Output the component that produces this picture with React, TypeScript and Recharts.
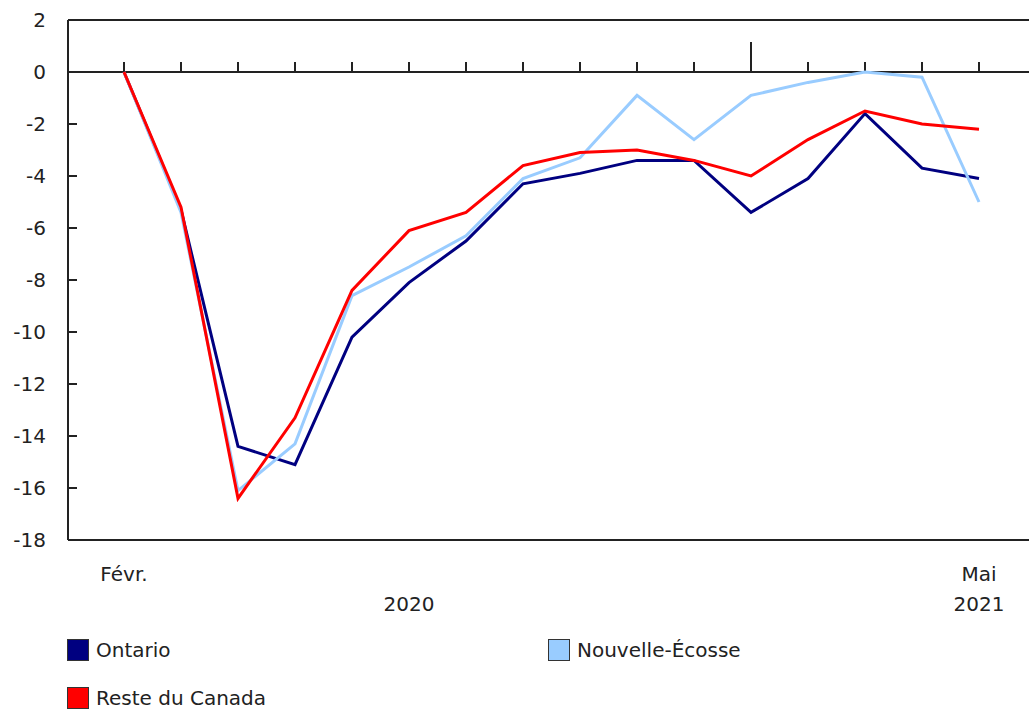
import React from 'react';
import { LineChart, Line, XAxis, YAxis, ReferenceLine } from 'recharts';

const months = ['2020-02','2020-03','2020-04','2020-05','2020-06','2020-07','2020-08','2020-09','2020-10','2020-11','2020-12','2021-01','2021-02','2021-03','2021-04','2021-05'];
const monthLabels = ['Févr.','','','','','','','','','','','','','','','Mai'];
const yearLabels = ['','','','','','2020','','','','','','','','','','2021'];
const ontario = [0,-5.3,-14.4,-15.1,-10.2,-8.1,-6.5,-4.3,-3.9,-3.4,-3.4,-5.4,-4.1,-1.6,-3.7,-4.1];
const nouvelleEcosse = [0,-5.4,-16.1,-14.3,-8.6,-7.5,-6.3,-4.1,-3.3,-0.9,-2.6,-0.9,-0.4,0,-0.2,-5.0];
const resteCanada = [0,-5.2,-16.4,-13.3,-8.4,-6.1,-5.4,-3.6,-3.1,-3.0,-3.4,-4.0,-2.6,-1.5,-2.0,-2.2];
const yTicks = [-18,-16,-14,-12,-10,-8,-6,-4,-2,0,2];
const yearStartIndex = 11;

const series = [
  { key: 'ontario', name: 'Ontario', color: '#000080' },
  { key: 'ne', name: 'Nouvelle-Écosse', color: '#99CCFF' },
  { key: 'reste', name: 'Reste du Canada', color: '#FF0000' },
];

const data = months.map((m, i) => ({
  m,
  ontario: ontario[i],
  ne: nouvelleEcosse[i],
  reste: resteCanada[i],
}));

const FONT = '"DejaVu Sans", Verdana, sans-serif';
const FS = 20;

const XTick = (props: any) => {
  const { x, y, index } = props;
  return (
    <g>
      {monthLabels[index] ? (
        <text x={x} y={y} dy={33} textAnchor="middle" fontFamily={FONT} fontSize={FS} fill="#222">{monthLabels[index]}</text>
      ) : null}
      {yearLabels[index] ? (
        <text x={x} y={y} dy={63} textAnchor="middle" fontFamily={FONT} fontSize={FS} fill="#222">{yearLabels[index]}</text>
      ) : null}
    </g>
  );
};

const LegendBlock = () => (
  <div style={{ position: 'absolute', left: 67, top: 639, display: 'grid', gridTemplateColumns: '481px 300px', rowGap: 26, fontFamily: FONT, fontSize: FS, color: '#222' }}>
    {series.map((s) => (
      <div key={s.key} style={{ display: 'flex', alignItems: 'center', height: 22 }}>
        <span style={{ display: 'inline-block', width: 20, height: 20, background: s.color, border: '1px solid #333', marginRight: 7 }} />
        <span>{s.name}</span>
      </div>
    ))}
  </div>
);

export default function App() {
  return (
    <div style={{ position: 'absolute', left: 0, top: 0, width: 1029, height: 709 }}>
      <style>{'body{margin:0}'}</style>
      <LineChart width={1029} height={709} data={data} margin={{ top: 20, right: 0, left: 0, bottom: 109 }}>
        <YAxis
          type="number"
          domain={[-18, 2]}
          ticks={yTicks}
          interval={0}
          width={68}
          tickSize={-9}
          tickMargin={31}
          axisLine={{ stroke: '#222', strokeWidth: 2 }}
          tickLine={{ stroke: '#222', strokeWidth: 2 }}
          tick={{ fontFamily: FONT, fontSize: FS, fill: '#222' }}
        />
        <XAxis
          dataKey="m"
          type="category"
          height={60}
          interval={0}
          padding={{ left: 56, right: 50 }}
          tickLine={false}
          axisLine={{ stroke: '#222', strokeWidth: 2 }}
          tick={<XTick />}
        />
        <ReferenceLine y={2} stroke="#222" strokeWidth={2} ifOverflow="visible" />
        <ReferenceLine y={0} stroke="#222" strokeWidth={2} />
        {months.map((m, i) => (
          <ReferenceLine
            key={m}
            segment={[{ x: m, y: 0 }, { x: m, y: i === yearStartIndex ? 1.15 : 0.38 }]}
            stroke="#222"
            strokeWidth={2}
          />
        ))}
        {series.map((s) => (
          <Line
            key={s.key}
            dataKey={s.key}
            name={s.name}
            stroke={s.color}
            strokeWidth={3}
            dot={false}
            activeDot={false}
            type="linear"
            isAnimationActive={false}
          />
        ))}
      </LineChart>
      <LegendBlock />
    </div>
  );
}
